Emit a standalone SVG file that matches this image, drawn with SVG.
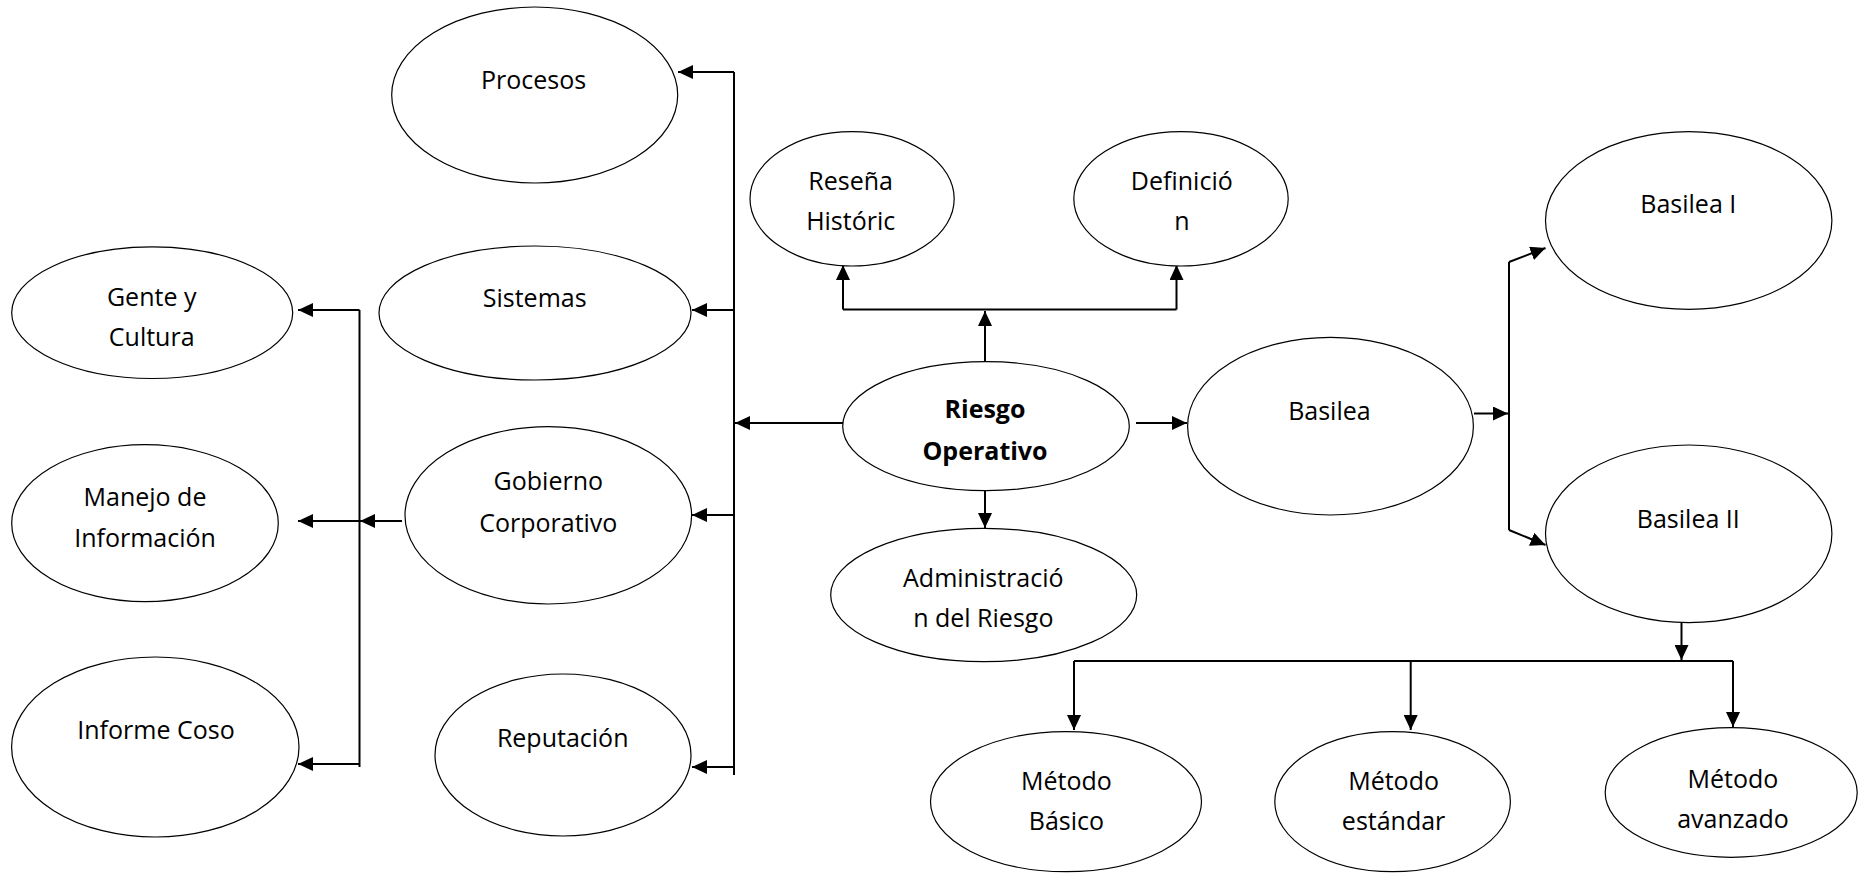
<svg xmlns="http://www.w3.org/2000/svg" width="1859" height="873" viewBox="0 0 1859 873">
<style>
.n{fill:#fff;stroke:#000;stroke-width:1.2}
.t{font-family:"Open Sans","Noto Sans",sans-serif;font-size:25px;fill:#000;text-anchor:middle}
.b{font-weight:bold;font-size:25px}
.c{fill:none;stroke:#000;stroke-width:2}
.a{marker-end:url(#ah)}
</style>
<defs>
<marker id="ah" markerUnits="userSpaceOnUse" markerWidth="16" markerHeight="14" refX="15" refY="7" orient="auto">
<path d="M0,0 L15,7 L0,14 z" fill="#000"/>
</marker>
</defs>
<rect width="1859" height="873" fill="#fff"/>
<g id="connectors">
<line class="c a" x1="843" y1="423" x2="735" y2="423"/>
<line class="c" x1="734" y1="72" x2="734" y2="775"/>
<line class="c a" x1="734" y1="72" x2="678" y2="72"/>
<line class="c a" x1="734" y1="310" x2="692" y2="310"/>
<line class="c a" x1="734" y1="515" x2="692" y2="515"/>
<line class="c a" x1="734" y1="767" x2="692" y2="767"/>
<line class="c a" x1="402" y1="521" x2="360" y2="521"/>
<line class="c" x1="359.5" y1="310" x2="359.5" y2="767"/>
<line class="c a" x1="359.5" y1="310" x2="298" y2="310"/>
<line class="c a" x1="359.5" y1="521" x2="298" y2="521"/>
<line class="c a" x1="359.5" y1="764" x2="298" y2="764"/>
<line class="c a" x1="985" y1="362" x2="985" y2="311"/>
<line class="c" x1="843" y1="309.5" x2="1176.5" y2="309.5"/>
<line class="c a" x1="843" y1="309.5" x2="843" y2="265"/>
<line class="c a" x1="1176.5" y1="309.5" x2="1176.5" y2="265"/>
<line class="c a" x1="985" y1="491" x2="985" y2="528"/>
<line class="c a" x1="1136" y1="423" x2="1187" y2="423"/>
<line class="c a" x1="1474" y1="413.5" x2="1508" y2="413.5"/>
<line class="c" x1="1509" y1="262" x2="1509" y2="530"/>
<line class="c a" x1="1509" y1="262" x2="1545.5" y2="248"/>
<line class="c a" x1="1509" y1="530" x2="1545.5" y2="545"/>
<line class="c a" x1="1681.5" y1="623" x2="1681.5" y2="660"/>
<line class="c" x1="1074" y1="661" x2="1733" y2="661"/>
<line class="c a" x1="1074" y1="661" x2="1074" y2="730"/>
<line class="c a" x1="1410.7" y1="661" x2="1410.7" y2="730"/>
<line class="c a" x1="1733" y1="661" x2="1733" y2="727"/>
</g>
<g id="procesos"><ellipse class="n" cx="534.7" cy="95" rx="143" ry="88"/><text class="t" x="533.5" y="89">Procesos</text></g>
<g id="sistemas"><ellipse class="n" cx="535" cy="313" rx="156" ry="67"/><text class="t" x="534.7" y="306.5">Sistemas</text></g>
<g id="gobierno"><ellipse class="n" cx="548.3" cy="515.3" rx="143.3" ry="88.7"/><text class="t" x="548.3" y="490">Gobierno</text><text class="t" x="548.3" y="531.7">Corporativo</text></g>
<g id="reputacion"><ellipse class="n" cx="563" cy="755" rx="128" ry="81"/><text class="t" x="562.7" y="746.7">Reputación</text></g>
<g id="gente"><ellipse class="n" cx="152.2" cy="312.7" rx="140.5" ry="65.8"/><text class="t" x="151.7" y="305.8">Gente y</text><text class="t" x="151.7" y="346.4">Cultura</text></g>
<g id="manejo"><ellipse class="n" cx="145" cy="523.2" rx="133.3" ry="78.5"/><text class="t" x="145" y="506">Manejo de</text><text class="t" x="145" y="547">Información</text></g>
<g id="informe"><ellipse class="n" cx="155.3" cy="747" rx="143.7" ry="90"/><text class="t" x="156" y="739.4">Informe Coso</text></g>
<g id="resena"><ellipse class="n" cx="852.1" cy="198.8" rx="102.1" ry="67.2"/><text class="t" x="850.7" y="190">Reseña</text><text class="t" x="850.7" y="230">Históric</text></g>
<g id="definicion"><ellipse class="n" cx="1181" cy="198.8" rx="107.2" ry="67.2"/><text class="t" x="1181.8" y="190">Definició</text><text class="t" x="1181.8" y="230">n</text></g>
<g id="riesgo"><ellipse class="n" cx="986" cy="426.2" rx="143.3" ry="64.5"/><text class="t b" x="985" y="418.3">Riesgo</text><text class="t b" x="985" y="460">Operativo</text></g>
<g id="administracion"><ellipse class="n" cx="983.7" cy="595" rx="153" ry="66.7"/><text class="t" x="983.3" y="586.7">Administració</text><text class="t" x="983.3" y="626.7">n del Riesgo</text></g>
<g id="basilea"><ellipse class="n" cx="1330.5" cy="426.2" rx="142.9" ry="88.8"/><text class="t" x="1329.4" y="420">Basilea</text></g>
<g id="basilea1"><ellipse class="n" cx="1688.7" cy="220.5" rx="143.2" ry="88.8"/><text class="t" x="1688.3" y="213.3">Basilea I</text></g>
<g id="basilea2"><ellipse class="n" cx="1688.7" cy="533.8" rx="143.2" ry="88.8"/><text class="t" x="1688.3" y="528.3">Basilea II</text></g>
<g id="basico"><ellipse class="n" cx="1066" cy="801.7" rx="135.5" ry="70"/><text class="t" x="1066.4" y="790">Método</text><text class="t" x="1066.4" y="830">Básico</text></g>
<g id="estandar"><ellipse class="n" cx="1392.6" cy="801.7" rx="117.8" ry="70"/><text class="t" x="1393.6" y="790">Método</text><text class="t" x="1393.6" y="830">estándar</text></g>
<g id="avanzado"><ellipse class="n" cx="1731.2" cy="792.5" rx="126" ry="64.8"/><text class="t" x="1733" y="788.3">Método</text><text class="t" x="1733" y="828.3">avanzado</text></g>
</svg>
